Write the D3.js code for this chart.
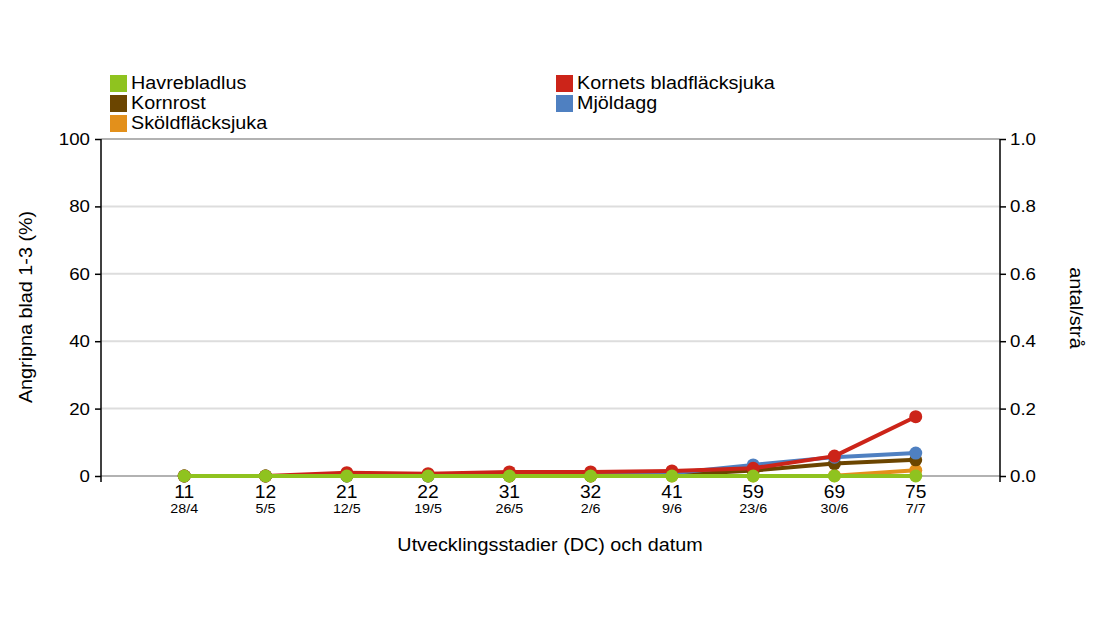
<!DOCTYPE html>
<html>
<head>
<meta charset="utf-8">
<script src="https://cdn.jsdelivr.net/npm/d3@7"></script>
<style>
  body { margin: 0; background: #fff; }
  svg { font-family: "Liberation Sans", Arial, sans-serif; }
</style>
</head>
<body>
<div id="chart"></div>
<script>
// stages and dates on the x axis
var stages = ["11", "12", "21", "22", "31", "32", "41", "59", "69", "75"];
var dates = ["28/4", "5/5", "12/5", "19/5", "26/5", "2/6", "9/6", "23/6", "30/6", "7/7"];

// series values (left axis in %, Havrebladlus on right axis antal/strå)
var havrebladlus = [0, 0, 0, 0, 0, 0, 0, 0, 0, 0];
var kornrost = [0, 0, 0, 0, 0, 0, 0.3, 1.6, 3.7, 4.8];
var skoldflacksjuka = [0, 0, 0, 0, 0, 0, 0, 0, 0.1, 1.7];
var kornetsBladflacksjuka = [0, 0, 1.0, 0.7, 1.2, 1.2, 1.5, 2.3, 5.9, 17.6];
var mjoldagg = [0, 0, 0, 0, 0.2, 0.3, 0.8, 3.3, 5.6, 6.8];

var leftTicks = [0, 20, 40, 60, 80, 100];
var rightTicks = [0, 0.2, 0.4, 0.6, 0.8, 1.0];

var series = [
    { name: "Sköldfläcksjuka", values: skoldflacksjuka, color: "#e3901b", axis: "left" },
    { name: "Kornrost", values: kornrost, color: "#6b4500", axis: "left" },
    { name: "Mjöldagg", values: mjoldagg, color: "#4f80c1", axis: "left" },
    { name: "Kornets bladfläcksjuka", values: kornetsBladflacksjuka, color: "#cc2419", axis: "left" },
    { name: "Havrebladlus", values: havrebladlus, color: "#8fc31f", axis: "right" }
];
var legendOrder = ["Havrebladlus", "Kornets bladfläcksjuka", "Kornrost", "Mjöldagg", "Sköldfläcksjuka"];

var svgWidth = 1100, svgHeight = 624;
var margin = { top: 139, left: 101, right: 100, bottom: 148 };
var width = svgWidth - margin.left - margin.right;
var height = svgHeight - margin.top - margin.bottom;

// the original text is a bit wider than Arial, stretch it horizontally
var SX = 1.13;
function stretch(sel, sx) {
    sel.each(function () {
        var t = d3.select(this);
        var x = +t.attr("x") || 0;
        t.attr("transform", `translate(${x * (1 - sx)},0) scale(${sx},1)`);
    });
}

var svg = d3.select("#chart").append("svg")
    .attr("width", svgWidth)
    .attr("height", svgHeight);

var chartGroup = svg.append("g")
    .attr("transform", `translate(${margin.left}, ${margin.top})`);

var x = d3.scalePoint().domain(stages).range([2, width - 3]).padding(1);
var yLeft = d3.scaleLinear().domain([0, 100]).range([height, 0]);
var yRight = d3.scaleLinear().domain([0, 1]).range([height, 0]);

// grid lines
chartGroup.selectAll(".grid")
    .data(leftTicks.filter(d => d > 0 && d < 100))
    .enter()
    .append("line")
    .attr("x1", 0).attr("x2", width)
    .attr("y1", d => yLeft(d)).attr("y2", d => yLeft(d))
    .attr("stroke", "#dddddd")
    .attr("stroke-width", 2);

chartGroup.append("line")
    .attr("x1", 0).attr("x2", width)
    .attr("y1", yLeft(100)).attr("y2", yLeft(100))
    .attr("stroke", "#999").attr("stroke-width", 1.5);

chartGroup.append("line")
    .attr("x1", 0).attr("x2", width)
    .attr("y1", yLeft(0)).attr("y2", yLeft(0))
    .attr("stroke", "#999").attr("stroke-width", 1.5);

// axes
var leftAxis = chartGroup.append("g")
    .call(d3.axisLeft(yLeft).tickValues(leftTicks).tickSize(6).tickPadding(5));
var rightAxis = chartGroup.append("g")
    .attr("transform", `translate(${width}, 0)`)
    .call(d3.axisRight(yRight).tickValues(rightTicks).tickSize(6).tickPadding(4).tickFormat(d3.format(".1f")));

[leftAxis, rightAxis].forEach(function (g) {
    g.select(".domain").attr("stroke", "#000").attr("stroke-width", 1.5)
        .attr("d", `M0,0V${height + 6}`);
    g.selectAll(".tick line").attr("stroke", "#000").attr("stroke-width", 1.5);
    g.selectAll("text").attr("font-size", 17).attr("fill", "#000")
        .attr("font-family", "Liberation Sans, Arial, sans-serif");
    stretch(g.selectAll("text"), 1.1);
});

// x labels
var xLabels = chartGroup.append("g");
stages.forEach(function (s, i) {
    xLabels.append("text")
        .attr("x", x(s)).attr("y", height + 22)
        .attr("text-anchor", "middle")
        .attr("font-size", 17.5)
        .text(s);
    xLabels.append("text")
        .attr("x", x(s)).attr("y", height + 37)
        .attr("text-anchor", "middle")
        .attr("font-size", 13)
        .text(dates[i]);
});
stretch(xLabels.selectAll("text"), 1.1);

// axis titles
var xTitle = svg.append("text")
    .attr("x", 550).attr("y", 551)
    .attr("text-anchor", "middle")
    .attr("font-size", 17.5)
    .text("Utvecklingsstadier (DC) och datum");
stretch(xTitle, SX);

svg.append("text")
    .attr("transform", `translate(32, 307) rotate(-90) scale(${SX},1)`)
    .attr("text-anchor", "middle")
    .attr("font-size", 17.5)
    .text("Angripna blad 1-3 (%)");

svg.append("text")
    .attr("transform", `translate(1070, 308) rotate(90) scale(${SX},1)`)
    .attr("text-anchor", "middle")
    .attr("font-size", 17.5)
    .text("antal/strå");

// lines and points
series.forEach(function (s) {
    var yScale = s.axis === "left" ? yLeft : yRight;
    var line = d3.line()
        .x((d, i) => x(stages[i]))
        .y(d => yScale(d));
    chartGroup.append("path")
        .datum(s.values)
        .attr("d", line)
        .attr("fill", "none")
        .attr("stroke", s.color)
        .attr("stroke-width", 4)
        .attr("stroke-linejoin", "round");
    chartGroup.selectAll(null)
        .data(s.values)
        .enter()
        .append("circle")
        .attr("cx", (d, i) => x(stages[i]))
        .attr("cy", d => yScale(d))
        .attr("r", 6.5)
        .attr("fill", s.color);
});

// legend
var legend = svg.append("g");
legendOrder.forEach(function (name, i) {
    var s = series.find(d => d.name === name);
    var col = i % 2, row = Math.floor(i / 2);
    var lx = col === 0 ? 110 : 556;
    var ly = 75 + row * 20;
    legend.append("rect")
        .attr("x", lx).attr("y", ly)
        .attr("width", 17).attr("height", 17)
        .attr("fill", s.color);
    legend.append("text")
        .attr("x", lx + 21).attr("y", ly + 14)
        .attr("font-size", 17.5)
        .text(name);
});
stretch(legend.selectAll("text"), SX);
</script>
</body>
</html>
